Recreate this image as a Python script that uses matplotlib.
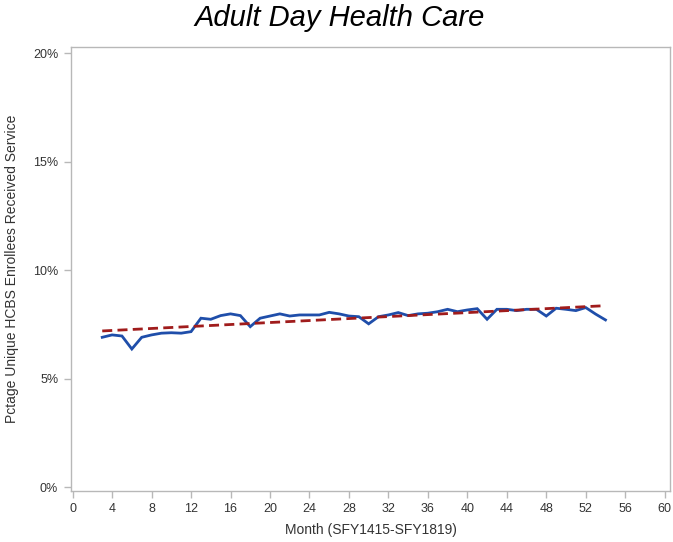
import numpy as np
import matplotlib.pyplot as plt
from matplotlib.ticker import FuncFormatter

# Monthly share of unique HCBS enrollees receiving adult day health care (%)
months = list(range(3, 55))
pct = [6.91, 7.02, 6.97, 6.37, 6.91, 7.02, 7.10, 7.12, 7.10, 7.17,
       7.79, 7.74, 7.91, 7.99, 7.91, 7.40, 7.79, 7.89, 7.99, 7.89,
       7.94, 7.94, 7.94, 8.06, 7.99, 7.89, 7.86, 7.53, 7.86, 7.94,
       8.05, 7.91, 7.99, 8.02, 8.09, 8.20, 8.09, 8.17, 8.23, 7.74,
       8.20, 8.20, 8.14, 8.20, 8.20, 7.89, 8.25, 8.20, 8.14, 8.28,
       7.98, 7.71]
xticks = list(range(0, 61, 4))
yticks = [0, 5, 10, 15, 20]

plt.rcParams['font.family'] = ['Liberation Sans', 'DejaVu Sans']

x = np.array(months)
y = np.array(pct)
# linear trend over the series
b1, b0 = np.polyfit(x, y, 1)
trend = b0 + b1 * x

fig = plt.figure(figsize=(6.73, 5.42), dpi=100)
ax = fig.add_axes([0.105, 0.095, 0.891, 0.818])

ax.plot(x, y, color='#1F4EAA', lw=2.0, solid_joinstyle='miter', zorder=3)
ax.plot(x, trend, color='#A01C1C', lw=2.0, dashes=(3.6, 1.9), zorder=4)

ax.set_xlim(-0.2, 60.57)
ax.set_ylim(-0.15, 20.28)
ax.set_xticks(xticks)
ax.set_yticks(yticks)
ax.yaxis.set_major_formatter(FuncFormatter(lambda v, p: '%d%%' % v))

for s in ax.spines.values():
    s.set_color('#B8B8B8')
    s.set_linewidth(1.0)
ax.tick_params(direction='out', length=5, width=1, color='#B8B8B8',
               labelcolor='#333333', labelsize=9, pad=4)

ax.set_xlabel('Month (SFY1415-SFY1819)', fontsize=10, color='#333333', labelpad=6)
ax.set_ylabel('Pctage Unique HCBS Enrollees Received Service', fontsize=10,
              color='#333333', labelpad=10)
fig.suptitle('Adult Day Health Care', fontsize=21, style='italic',
             x=0.505, y=0.966, va='center')

fig.savefig('out.png', dpi=100)
